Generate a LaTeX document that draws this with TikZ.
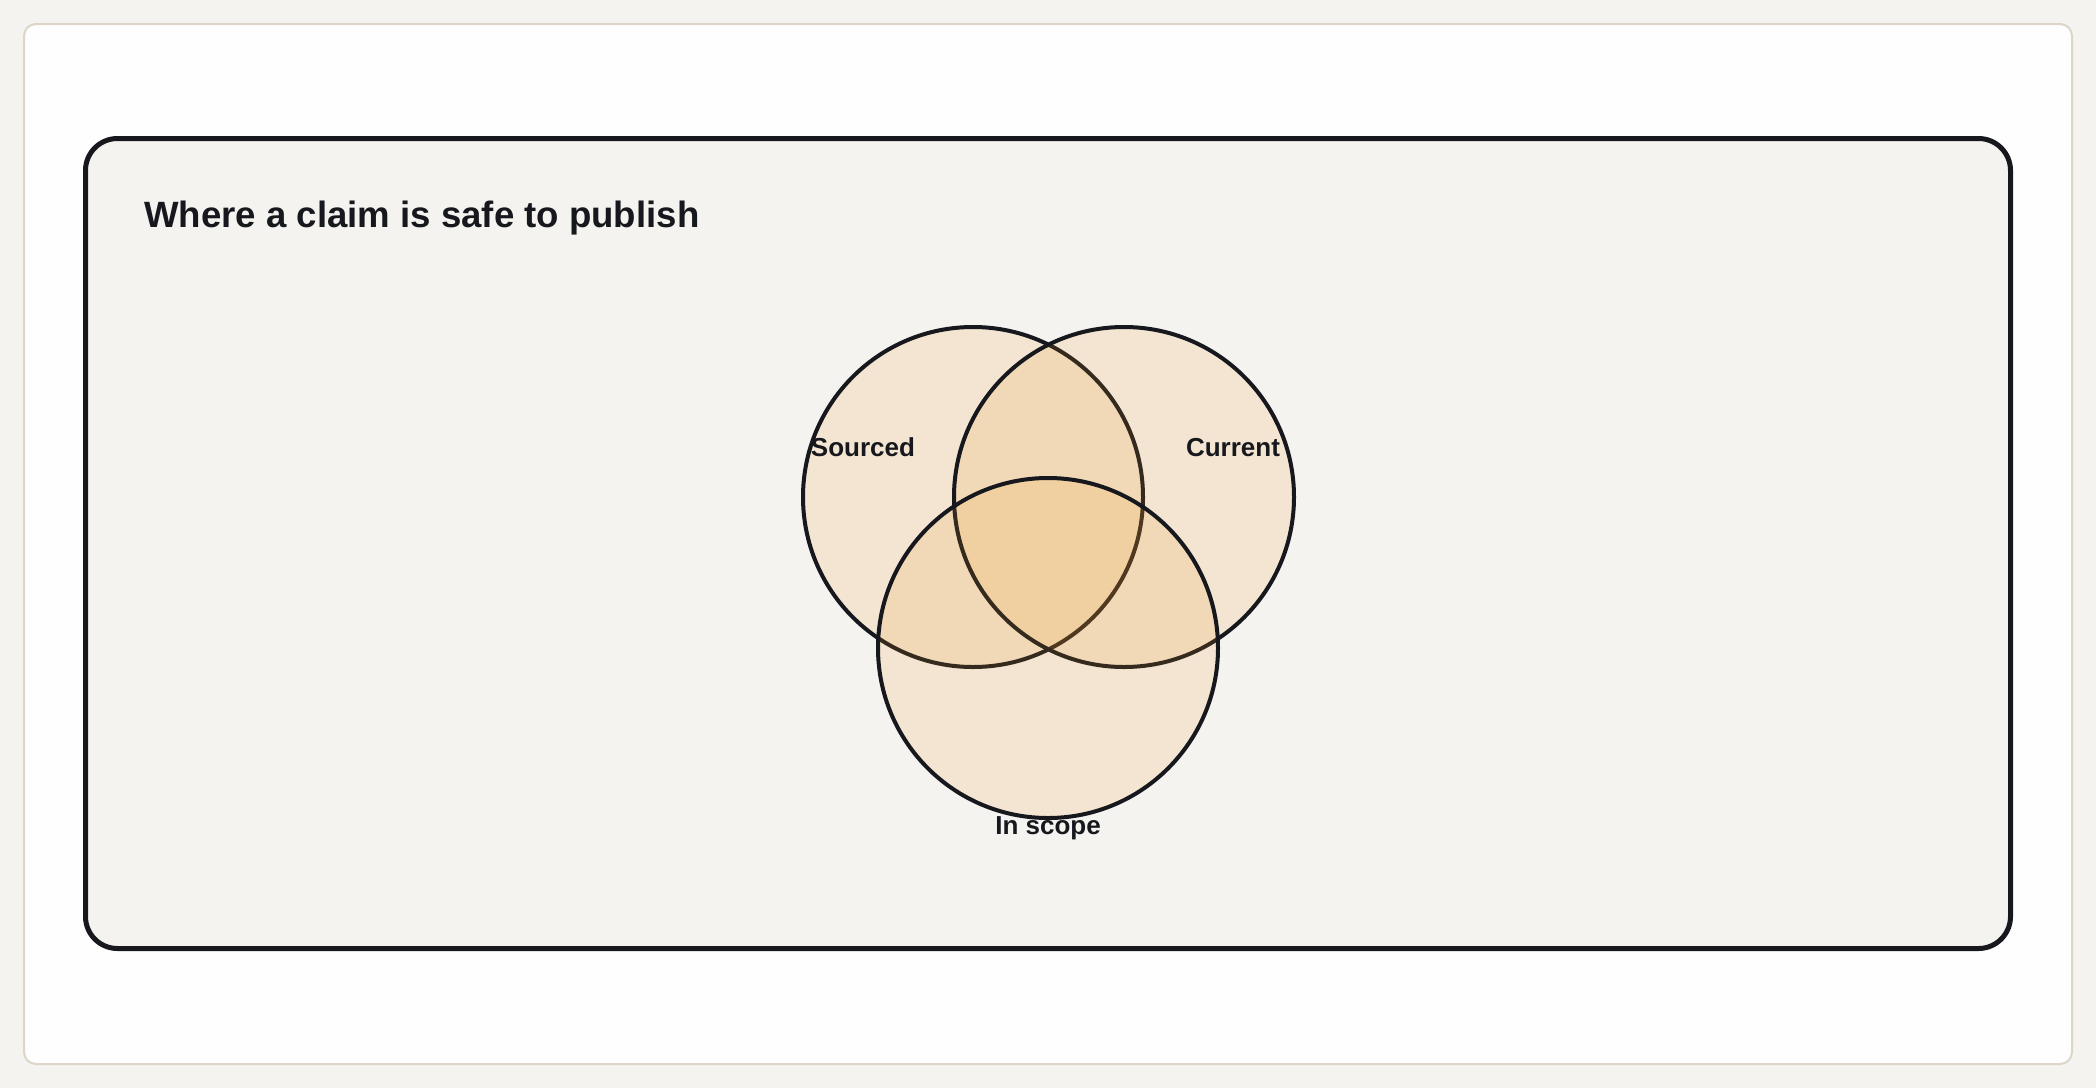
\documentclass[tikz,border=0pt]{standalone}
\usepackage{fontspec}
\setmainfont{Liberation Sans}
\definecolor{pagebg}{HTML}{F5F3EF}
\definecolor{cardbg}{HTML}{FEFEFE}
\definecolor{cardline}{HTML}{DDD5C8}
\definecolor{ink}{HTML}{16181D}
\definecolor{vennfill}{RGB}{235,150,40}
\begin{document}
\begin{tikzpicture}[x=1pt,y=-1pt,
  card/.style={fill=cardbg,draw=cardline,line width=2pt,rounded corners=12pt},
  panel/.style={fill=pagebg,draw=ink,line width=5pt,rounded corners=32pt},
  venn/.style={circle,minimum size=340pt,inner sep=0pt,draw=ink,line width=4pt,fill=vennfill,fill opacity=0.15,draw opacity=1},
  setlabel/.style={font=\bfseries\fontsize{26}{30}\selectfont,text=ink,anchor=base,inner sep=0pt},
  titletext/.style={font=\bfseries\fontsize{36.6}{44}\selectfont,text=ink,anchor=base west,inner sep=0pt}]
\fill[pagebg] (0,0) rectangle (2096,1088);
\useasboundingbox (0,0) rectangle (2096,1088);
\draw[card] (24,24) rectangle (2072,1064);
\draw[panel] (85.5,138.5) rectangle (2010.5,948.5);
\node[titletext] (title) at (144,227) {Where a claim is safe to publish};
\node[venn] (S) at (973,497) {};
\node[venn] (C) at (1124,497) {};
\node[venn] (I) at (1048,648) {};
\node[setlabel] (Sl) at (863,456) {Sourced};
\node[setlabel] (Cl) at (1233,456) {Current};
\node[setlabel] (Il) at (1048,834) {In scope};
\end{tikzpicture}
\end{document}
